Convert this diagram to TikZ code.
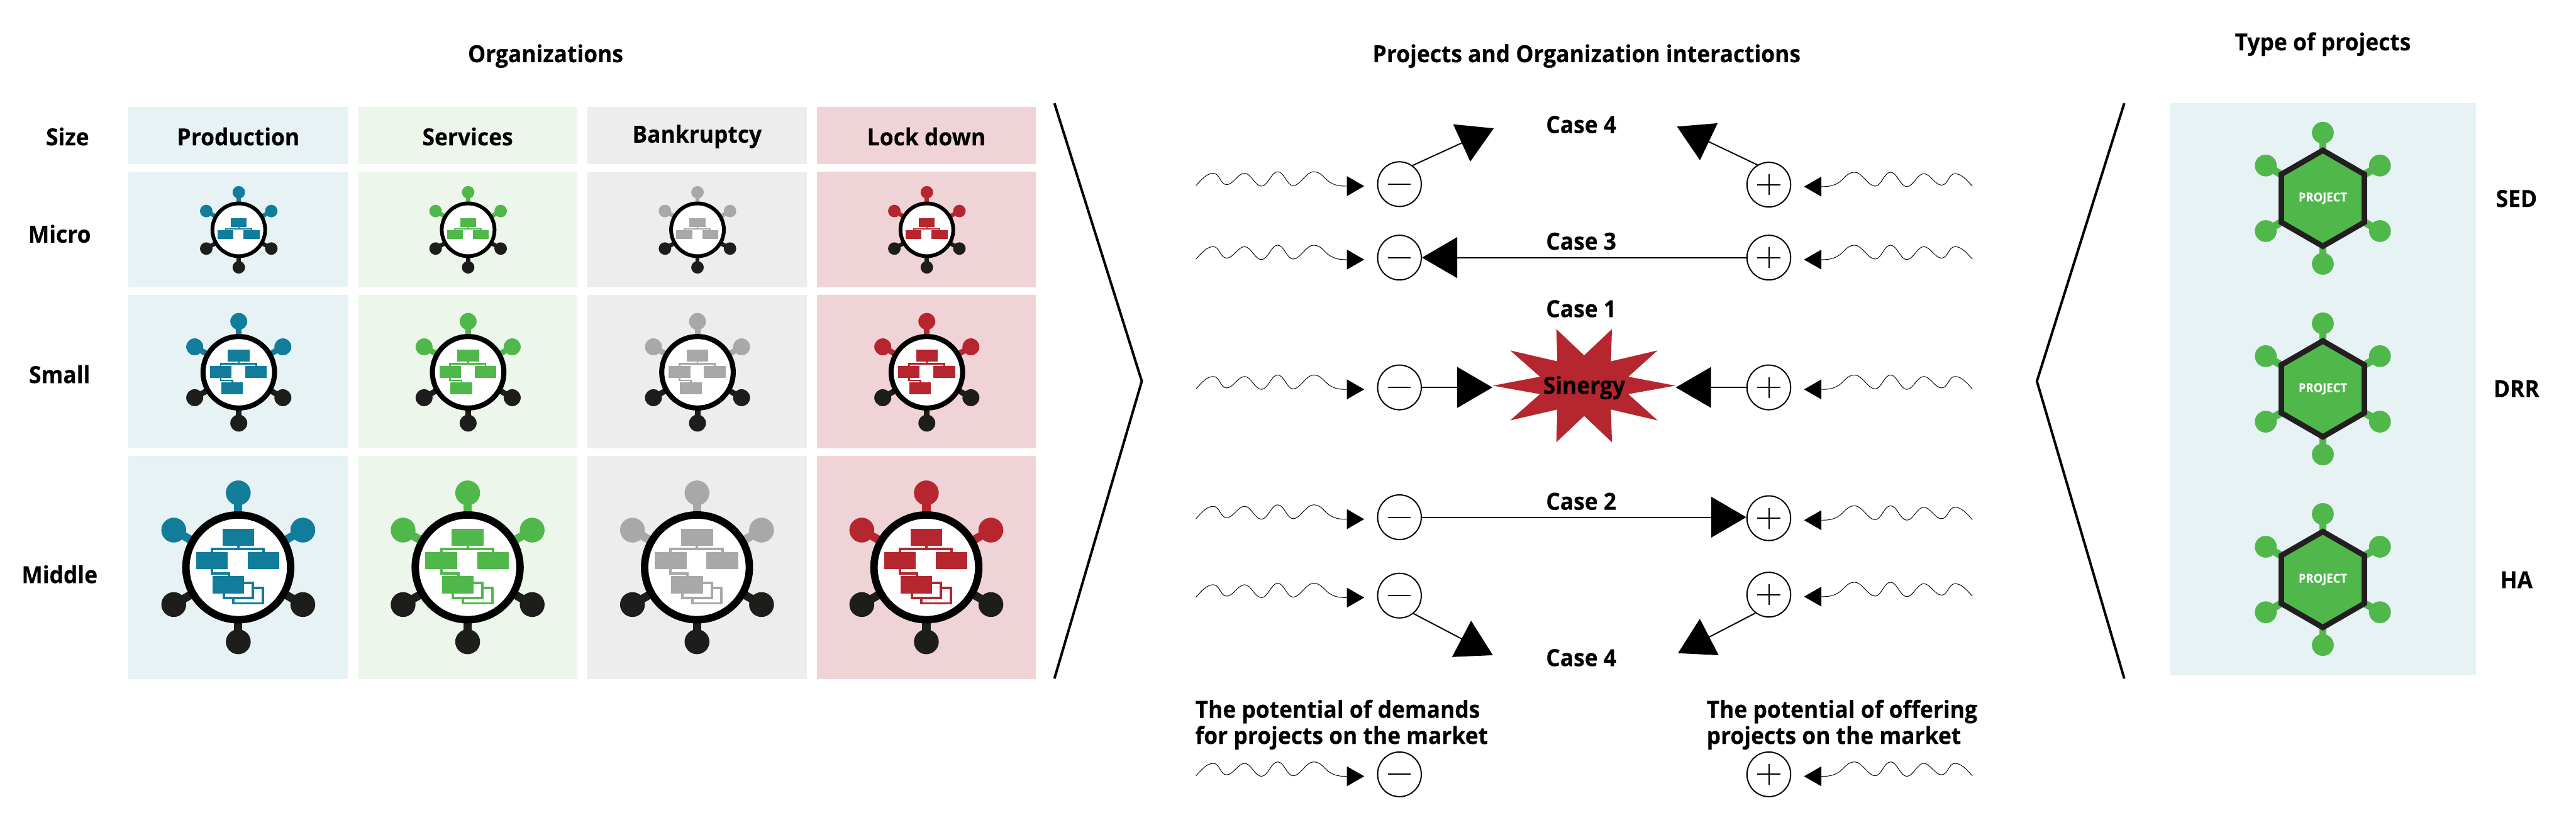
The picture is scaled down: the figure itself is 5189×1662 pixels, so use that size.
\documentclass[tikz,border=0pt]{standalone}
\usepackage{fontspec}
\usetikzlibrary{arrows.meta,shapes.geometric,calc}
\setmainfont{Open Sans}[FakeStretch=0.945,BoldFeatures={FakeBold=0.25}]
\definecolor{tealc}{HTML}{117D9B}
\definecolor{greenc}{HTML}{50B84B}
\definecolor{greyc}{HTML}{A8A8A8}
\definecolor{redc}{HTML}{B5262F}
\definecolor{darkc}{HTML}{1D1D1B}
\definecolor{tealp}{HTML}{E6F2F4}
\definecolor{greenp}{HTML}{ECF6EA}
\definecolor{greyp}{HTML}{EDEDED}
\definecolor{redp}{HTML}{F0D3D6}
\definecolor{hexline}{HTML}{231F20}
\tikzset{
  lab/.style={font=\fontsize{13.5}{15}\selectfont\bfseries,inner sep=0pt,align=center,text=black},
  labl/.style={font=\fontsize{13.5}{15}\selectfont\bfseries,inner sep=0pt,align=left,anchor=west,text=black},
  projlab/.style={font=\fontsize{7}{8}\selectfont\bfseries,inner sep=0pt,text=white},
  pot/.style={draw=black,line width=.25mm,fill=white,ellipse,minimum width=8.8mm,minimum height=9mm,inner sep=0pt},
  glyph/.style={draw=black,line width=.25mm},
  wavy/.style={draw=black,line width=.12mm,-{Triangle[length=3.5mm,width=4mm]}},
  bigarrow/.style={draw=black,line width=.25mm,-{Triangle[length=7.1mm,width=8.2mm]}},
  chevron/.style={draw=black,line width=.5mm,miter limit=10},
}
% cx cy scale chartshift level colour
\newcommand{\orgicon}[6]{%
\begin{scope}[shift={(#1,#2)},scale=#3]
  \foreach \px/\py in {0/-150,-130/-75,130/-75}{
    \draw[#6,line width=#3*1.67mm] (0,0) -- (\px,\py);
    \fill[#6] (\px,\py) circle[radius=25];}
  \foreach \px/\py in {0/150,-130/75,130/75}{
    \draw[darkc,line width=#3*1.67mm] (0,0) -- (\px,\py);
    \fill[darkc] (\px,\py) circle[radius=25];}
  \draw[black,fill=white,line width=#3*1.5mm] (0,0) circle[radius=105.5];
  \begin{scope}[shift={(0,#4)}]
    \draw[#6,line width=#3*.5mm] (-53,-31) -- (-53,-36.5) -- (51,-36.5) -- (51,-31);
    \draw[#6,line width=#3*.5mm] (0,-43) -- (0,-36.5);
    \fill[#6] (-32,-78) rectangle (32,-43);
    \fill[#6] (-85,-31) rectangle (-21,4);
    \fill[#6] (19,-31) rectangle (83,4);
    \ifnum#5>1
      \draw[#6,fill=white,line width=#3*.5mm] (-9.5,41.5) rectangle (49.5,72.5);
      \draw[#6,fill=white,line width=#3*.5mm] (-29.5,31.5) rectangle (29.5,61.5);
    \fi
    \ifnum#5>0
      \draw[#6,line width=#3*.5mm] (-53,4) -- (-53,12) -- (-19,12) -- (-19,18);
      \fill[#6] (-52,18) rectangle (12,53);
    \fi
  \end{scope}
\end{scope}}
\newcommand{\hexicon}[2]{%
\begin{scope}[shift={(4679,#1)}]
  \foreach \px/\py in {0/-132,0/132,-115/-66,115/-66,-115/66,115/66}{
    \draw[greenc,line width=1.5mm] (0,0) -- (\px,\py);
    \fill[greenc] (\px,\py) circle[radius=22];}
  \draw[hexline,fill=greenc,line width=1.1mm,line join=miter]
    (0,-96.6) -- (83.7,-48.3) -- (83.7,48.3) -- (0,96.6) -- (-83.7,48.3) -- (-83.7,-48.3) -- cycle;
  \node[projlab] (#2) at (0,0) {PROJECT};
\end{scope}}
\newcommand{\wavein}[2]{%
\begin{scope}[shift={(#1.center)},xscale=#2]
  \draw[wavy] (-410,3) .. controls (-398,-10) and (-388,-22) .. (-375,-22)
    .. controls (-362,-22) and (-361,1) .. (-348,1)
    .. controls (-335,1) and (-325,-22) .. (-312,-22)
    .. controls (-299,-22) and (-291,4) .. (-278,4)
    .. controls (-265,4) and (-258,-25) .. (-245.5,-25)
    .. controls (-232,-25) and (-227,3) .. (-214,3)
    .. controls (-200,3) and (-188,-25) .. (-173,-25)
    .. controls (-158,-25) and (-152,-12) .. (-142,-5)
    .. controls (-130,3) and (-120,4) .. (-107,4) -- (-71,4);
\end{scope}}
\newcommand{\minuspot}[3]{%
  \node[pot] (#1) at (#2,#3) {};
  \draw[glyph] ($(#1.center)+(-23,0)$) -- ($(#1.center)+(23,0)$);
  \wavein{#1}{1}}
\newcommand{\pluspot}[3]{%
  \node[pot] (#1) at (#2,#3) {};
  \draw[glyph] ($(#1.center)+(-23,0)$) -- ($(#1.center)+(23,0)$);
  \draw[glyph] ($(#1.center)+(0,-21)$) -- ($(#1.center)+(0,21)$);
  \wavein{#1}{-1}}
\begin{document}
\begin{tikzpicture}[x=0.1mm,y=-0.1mm]
\useasboundingbox (0,0) rectangle (5189,1662);
\fill[white] (0,0) rectangle (5189,1662);
% ---------- titles
\node[lab] (torg) at (1099,113) {Organizations};
\node[lab] (tint) at (3196,113) {Projects and Organization interactions};
\node[lab] (ttype) at (4679,89) {Type of projects};
% ---------- panels
\foreach \xa/\pc in {259/tealp,721/greenp,1183/greyp,1645/redp}{
  \pgfmathsetmacro{\xb}{\xa+442}
  \fill[\pc] (\xa,215) rectangle (\xb,331);
  \fill[\pc] (\xa,346) rectangle (\xb,579);
  \fill[\pc] (\xa,594) rectangle (\xb,903);
  \fill[\pc] (\xa,918) rectangle (\xb,1368);
}
\fill[tealp] (4370,208) rectangle (4988,1360);
% ---------- headers
\node[lab] (hsize) at (136,275) {Size};
\node[lab] (h1) at (480,275) {Production};
\node[lab] (h2) at (942,275) {Services};
\node[lab] (h3) at (1404,275) {Bankruptcy};
\node[lab] (h4) at (1866,275) {Lock down};
\node[lab] (rmicro) at (120,471) {Micro};
\node[lab] (rsmall) at (120,754) {Small};
\node[lab] (rmiddle) at (120,1157) {Middle};
% ---------- icons
\foreach \cx/\cc in {480/tealc,942/greenc,1404/greyc,1866/redc}{
  \pgfmathsetmacro{\cxb}{\cx+1}
  \orgicon{\cxb}{463}{0.504}{32}{0}{\cc}
  \orgicon{\cxb}{750}{0.683}{12}{1}{\cc}
  \orgicon{\cx}{1143}{1}{0}{2}{\cc}
}
% ---------- chevrons
\draw[chevron] (2124,208) -- (2300,768) -- (2124,1367);
\draw[chevron] (4279,208) -- (4103,768) -- (4279,1367);
% ---------- star
\fill[redc] (3007,777) -- (3102,759) -- (3042,706) -- (3137,728) -- (3135,663) -- (3191,716) -- (3247,663) -- (3245,728) -- (3339,706) -- (3280,759) -- (3375,777) -- (3280,794) -- (3339,847) -- (3245,825) -- (3247,891) -- (3191,838) -- (3135,891) -- (3137,825) -- (3042,847) -- (3102,794) -- cycle;
\node[lab,minimum width=36.8mm] (star) at (3191,781) {Sinergy};
% ---------- potentials
\minuspot{m1}{2819}{371}
\pluspot{p1}{3563}{372}
\minuspot{m2}{2819}{519}
\pluspot{p2}{3563}{519}
\minuspot{m3}{2819}{780.5}
\pluspot{p3}{3563}{780.5}
\minuspot{m4}{2819}{1042}
\pluspot{p4}{3563}{1044}
\minuspot{m5}{2819}{1200}
\pluspot{p5}{3563}{1198}
\minuspot{m6}{2819}{1560}
\pluspot{p6}{3563}{1560}
% ---------- connectors
\coordinate (t1a) at (3009,258.5);
\coordinate (t1b) at (3378,255);
\coordinate (t5a) at (3007,1320);
\coordinate (t5b) at (3380,1316);
\draw[bigarrow] (m1.55) -- (t1a);
\draw[bigarrow] (p1.120) -- (t1b);
\draw[bigarrow] (p2.west) -- (m2.east);
\draw[bigarrow] (m3.east) -- (m3.east -| star.west);
\draw[bigarrow] (p3.west) -- (p3.west -| star.east);
\draw[bigarrow] (m4.east) -- (m4.east -| p4.west);
\draw[bigarrow] (m5.-52) -- (t5a);
\draw[bigarrow] (p5.-126) -- (t5b);
% ---------- case labels
\node[lab] (c4a) at (3185,251) {Case 4};
\node[lab] (c3) at (3185,486) {Case 3};
\node[lab] (c1) at (3185,622) {Case 1};
\node[lab] (c2) at (3185,1010) {Case 2};
\node[lab] (c4b) at (3185,1325) {Case 4};
\node[labl] (potd) at (2407,1460) {The potential of demands\\for projects on the market};
\node[labl] (poto) at (3437,1460) {The potential of offering\\projects on the market};
% ---------- right column
\hexicon{399.5}{hx1}
\hexicon{783.5}{hx2}
\hexicon{1167.5}{hx3}
\node[lab] (sed) at (5069,400) {SED};
\node[lab] (drr) at (5069,783) {DRR};
\node[lab] (ha) at (5069,1168) {HA};
\end{tikzpicture}
\end{document}
